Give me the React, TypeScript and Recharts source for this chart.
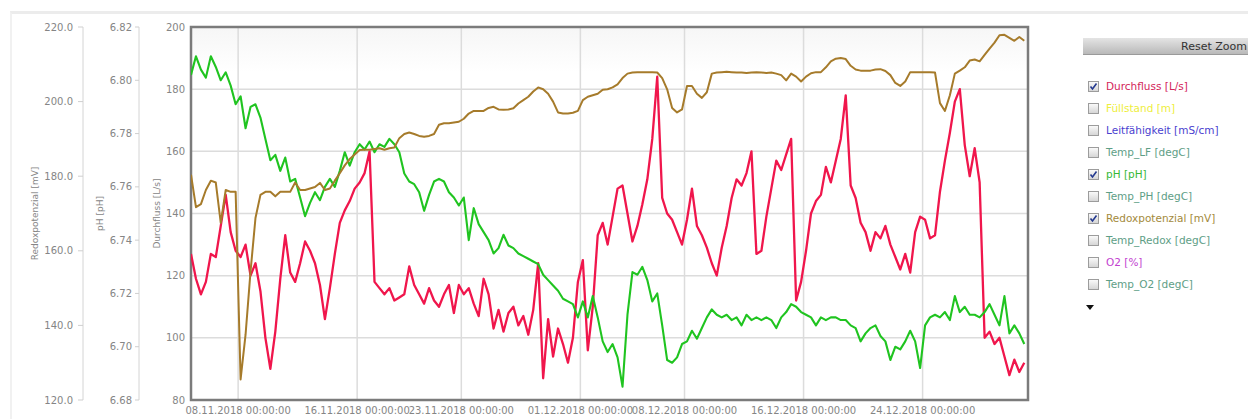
import { CartesianGrid, Line, LineChart, ReferenceArea, XAxis, YAxis } from 'recharts'

// Messreihe im 8-Stunden-Raster ab 04.11.2018 20:00 (UTC)
const START = Date.UTC(2018, 10, 4, 20)
const STEP = 8 * 3600 * 1000
const END = START + 56.25 * 24 * 3600 * 1000

const tickDays = ['08.11.2018', '16.11.2018', '23.11.2018', '01.12.2018', '08.12.2018', '16.12.2018', '24.12.2018']
const flowTicks = [80, 100, 120, 140, 160, 180, 200]
const phTicks = [6.68, 6.7, 6.72, 6.74, 6.76, 6.78, 6.8, 6.82]
const redoxTicks = [120, 140, 160, 180, 200, 220]

// Durchfluss [L/s]
const durchfluss = [
	127, 119, 114, 118, 127, 126, 136, 146, 134, 128,
	126, 130, 120, 124, 115, 100, 90, 102, 119, 133,
	121, 118, 124, 131, 128, 124, 117, 106, 116, 127,
	137, 141, 144, 148, 150, 153, 160, 118, 116, 114,
	116, 112, 113, 114, 123, 117, 114, 111, 116, 112,
	110, 114, 117, 108, 117, 114, 116, 111, 107, 119,
	114, 103, 109, 102, 108, 110, 104, 107, 101, 109,
	124, 87, 106, 94, 103, 98, 92, 100, 118, 125,
	96, 110, 133, 137, 130, 139, 148, 149, 140, 131,
	136, 143, 151, 164, 184, 145, 140, 138, 134, 130,
	138, 148, 136, 133, 129, 124, 120, 129, 136, 145,
	151, 149, 153, 160, 127, 128, 139, 148, 157, 154,
	159, 164, 112, 118, 128, 140, 144, 146, 155, 150,
	157, 164, 178, 149, 145, 137, 134, 128, 134, 132,
	136, 130, 126, 122, 127, 121, 134, 139, 138, 132,
	133, 147, 157, 166, 176, 180, 162, 152, 161, 150,
	100, 102, 98, 100, 94, 88, 93, 89, 92
]

// pH [pH]
const ph = [
	6.802, 6.809, 6.804, 6.801, 6.809, 6.805, 6.8, 6.803, 6.798, 6.791,
	6.794, 6.782, 6.79, 6.791, 6.786, 6.778, 6.77, 6.772, 6.766, 6.771,
	6.762, 6.763, 6.756, 6.749, 6.754, 6.758, 6.755, 6.76, 6.763, 6.76,
	6.766, 6.773, 6.768, 6.773, 6.776, 6.774, 6.777, 6.773, 6.776, 6.775,
	6.778, 6.776, 6.773, 6.765, 6.762, 6.761, 6.758, 6.751, 6.757, 6.762,
	6.763, 6.762, 6.758, 6.756, 6.753, 6.756, 6.74, 6.752, 6.746, 6.743,
	6.74, 6.735, 6.737, 6.742, 6.738, 6.737, 6.735, 6.734, 6.733, 6.732,
	6.731, 6.727, 6.725, 6.723, 6.721, 6.718, 6.717, 6.716, 6.711, 6.717,
	6.711, 6.719, 6.711, 6.702, 6.698, 6.701, 6.696, 6.685, 6.712, 6.728,
	6.727, 6.73, 6.725, 6.717, 6.72, 6.708, 6.695, 6.694, 6.696, 6.701,
	6.702, 6.706, 6.703, 6.707, 6.711, 6.714, 6.712, 6.711, 6.712, 6.71,
	6.711, 6.708, 6.712, 6.71, 6.711, 6.71, 6.711, 6.71, 6.707, 6.711,
	6.713, 6.716, 6.715, 6.713, 6.712, 6.711, 6.708, 6.711, 6.71, 6.711,
	6.711, 6.71, 6.71, 6.708, 6.707, 6.702, 6.705, 6.707, 6.708, 6.704,
	6.702, 6.695, 6.7, 6.699, 6.702, 6.706, 6.702, 6.692, 6.708, 6.711,
	6.712, 6.711, 6.713, 6.71, 6.719, 6.713, 6.715, 6.712, 6.712, 6.711,
	6.713, 6.716, 6.712, 6.708, 6.719, 6.705, 6.708, 6.705, 6.701
]

// Redoxpotenzial [mV]
const redox = [
	180.4, 171.7, 172.5, 176.3, 178.8, 178.3, 167.5, 176.3, 175.8, 175.8,
	125.5, 137.5, 154.4, 168.8, 175.0, 175.8, 175.8, 174.6, 175.8, 175.8,
	175.8, 178.3, 176.3, 176.3, 176.7, 177.1, 178.2, 176.3, 176.7, 178.8,
	180.8, 182.9, 184.6, 185.8, 187.0, 187.1, 187.1, 187.3, 187.5, 187.1,
	187.5, 187.7, 190.2, 191.3, 191.7, 191.3, 190.8, 190.6, 190.8, 191.3,
	193.8, 194.2, 194.2, 194.4, 194.6, 195.4, 196.8, 197.5, 197.5, 197.5,
	198.3, 198.6, 197.9, 197.8, 197.9, 198.2, 199.5, 200.4, 201.3, 202.7,
	203.8, 203.3, 202.1, 200.0, 197.1, 196.8, 196.8, 197.0, 197.5, 200.4,
	201.3, 201.7, 202.1, 203.2, 203.3, 203.8, 204.6, 206.3, 207.5, 207.8,
	207.9, 207.9, 207.9, 207.9, 207.8, 206.3, 203.3, 198.3, 197.1, 197.9,
	204.2, 204.2, 202.1, 201.0, 202.5, 207.5, 207.8, 207.9, 208.0, 207.9,
	207.8, 207.8, 207.7, 207.8, 207.9, 207.8, 207.7, 207.8, 207.5, 207.1,
	205.7, 207.5, 206.7, 205.4, 206.7, 207.6, 207.9, 207.9, 209.2, 210.8,
	211.5, 211.7, 211.4, 209.6, 208.6, 208.3, 208.3, 208.3, 208.6, 208.7,
	208.2, 207.1, 205.0, 204.2, 205.4, 207.9, 207.9, 207.9, 207.9, 207.9,
	207.8, 199.6, 197.5, 201.7, 207.5, 208.3, 209.2, 211.0, 211.3, 210.8,
	212.5, 214.2, 215.8, 217.8, 217.9, 217.1, 216.3, 217.3, 216.3
]

const legendItems = [
	{ name: 'Durchfluss [L/s]', color: '#d3245a', checked: true },
	{ name: 'Füllstand [m]', color: '#eeee3c', checked: false },
	{ name: 'Leitfähigkeit [mS/cm]', color: '#4a3fcf', checked: false },
	{ name: 'Temp_LF [degC]', color: '#5e9e86', checked: false },
	{ name: 'pH [pH]', color: '#36b836', checked: true },
	{ name: 'Temp_PH [degC]', color: '#5e9e86', checked: false },
	{ name: 'Redoxpotenzial [mV]', color: '#a38a3c', checked: true },
	{ name: 'Temp_Redox [degC]', color: '#5e9e86', checked: false },
	{ name: 'O2 [%]', color: '#c23fd0', checked: false },
	{ name: 'Temp_O2 [degC]', color: '#5e9e86', checked: false }
]

const rows = durchfluss.map((v, i) => ({
	t: START + i * STEP,
	durchfluss: v,
	ph: ph[i],
	redox: redox[i]
}))

const tickStamps = tickDays.map(d => {
	const [dd, mm, yy] = d.split('.').map(Number)
	return Date.UTC(yy, mm - 1, dd)
})

const pad = (n: number) => String(n).padStart(2, '0')
function fmtDate(ms: number) {
	const d = new Date(ms)
	return `${pad(d.getUTCDate())}.${pad(d.getUTCMonth() + 1)}.${d.getUTCFullYear()} ${pad(d.getUTCHours())}:${pad(d.getUTCMinutes())}:${pad(d.getUTCSeconds())}`
}

const FONT = '"DejaVu Sans", Verdana, sans-serif'
const AXIS_TEXT = '#858585'

/** Senkrechter Achsentitel, dx = Abstand vom linken Rand der Achse. */
function AxisTitle({ viewBox, text, dx }: any) {
	const x = viewBox.x + dx
	const y = viewBox.y + viewBox.height / 2
	return (
		<text
			x={x}
			y={y}
			transform={`rotate(-90 ${x} ${y})`}
			textAnchor='middle'
			dominantBaseline='central'
			fontSize={9}
			fontFamily={FONT}
			fill={AXIS_TEXT}
		>
			{text}
		</text>
	)
}

function CheckBox({ checked }: { checked: boolean }) {
	return (
		<svg width={11} height={11} style={{ display: 'block' }}>
			<defs>
				<linearGradient id='cbFill' x1='0' y1='0' x2='0' y2='1'>
					<stop offset='0%' stopColor='#fbfbfb' />
					<stop offset='100%' stopColor='#d4d4d4' />
				</linearGradient>
			</defs>
			<rect x={0.5} y={0.5} width={10} height={10} fill='url(#cbFill)' stroke='#9c9c9c' />
			{checked && (
				<path d='M2.5 5.5 L4.5 8 L8.5 2.5' fill='none' stroke='#24398f' strokeWidth={1.6} />
			)}
		</svg>
	)
}

const tickStyle = { fontSize: 10, fontFamily: FONT, fill: AXIS_TEXT }

export default function App() {
	return (
		<div style={{ position: 'relative', width: 1248, height: 419, fontFamily: FONT }}>
			<style>{'body{margin:0;overflow:hidden}'}</style>

			{/* Rahmen des Diagrammfelds */}
			<div
				style={{
					position: 'absolute',
					left: 10,
					top: 11,
					right: -4,
					bottom: -4,
					borderTop: '3px solid #ececec',
					borderLeft: '2px solid #f1f1f1'
				}}
			/>

			<div style={{ position: 'absolute', left: 0, top: 0 }}>
				<LineChart
					width={1040}
					height={419}
					data={rows}
					margin={{ top: 27, right: 12, bottom: 0, left: 0 }}
				>
					<defs>
						<linearGradient id='plotBg' x1='0' y1='0' x2='0' y2='1'>
							<stop offset='0%' stopColor='#f6f6f6' />
							<stop offset='12%' stopColor='#ffffff' />
							<stop offset='100%' stopColor='#ffffff' />
						</linearGradient>
					</defs>

					<CartesianGrid
						yAxisId='flow'
						stroke='#dcdcdc'
						strokeWidth={1.5}
						fill='url(#plotBg)'
						horizontalValues={flowTicks}
						verticalValues={tickStamps}
					/>

					<XAxis
						dataKey='t'
						type='number'
						domain={[START, END]}
						allowDataOverflow
						ticks={tickStamps}
						interval={0}
						tickFormatter={fmtDate}
						tick={tickStyle}
						tickLine={false}
						axisLine={false}
						tickSize={2}
						tickMargin={5}
						height={19}
					/>

					<YAxis
						yAxisId='flow'
						orientation='left'
						width={52}
						domain={[80, 200]}
						ticks={flowTicks}
						allowDataOverflow
						tick={tickStyle}
						tickLine={false}
						axisLine={false}
						tickSize={3}
						tickMargin={3}
						label={<AxisTitle text='Durchfluss [L/s]' dx={18} />}
					/>
					<YAxis
						yAxisId='ph'
						orientation='left'
						width={56}
						domain={[6.68, 6.82]}
						ticks={phTicks}
						allowDataOverflow
						tickFormatter={(v: number) => v.toFixed(2)}
						tick={tickStyle}
						tickLine={{ stroke: '#cfcfcf' }}
						axisLine={{ stroke: '#d4d4d4' }}
						tickSize={4}
						tickMargin={3}
						label={<AxisTitle text='pH [pH]' dx={17} />}
					/>
					<YAxis
						yAxisId='redox'
						orientation='left'
						width={83}
						domain={[120, 220]}
						ticks={redoxTicks}
						allowDataOverflow
						tickFormatter={(v: number) => v.toFixed(1)}
						tick={tickStyle}
						tickLine={{ stroke: '#cfcfcf' }}
						axisLine={{ stroke: '#d4d4d4' }}
						tickSize={5}
						tickMargin={5}
						label={<AxisTitle text='Redoxpotenzial [mV]' dx={35} />}
					/>

					<Line
						yAxisId='flow'
						dataKey='durchfluss'
						type='linear'
						stroke='#f0164c'
						strokeWidth={2.3}
						strokeLinejoin='round'
						dot={false}
						isAnimationActive={false}
					/>
					<Line
						yAxisId='ph'
						dataKey='ph'
						type='linear'
						stroke='#20c420'
						strokeWidth={2.1}
						strokeLinejoin='round'
						dot={false}
						isAnimationActive={false}
					/>
					<Line
						yAxisId='redox'
						dataKey='redox'
						type='linear'
						stroke='#a67b2b'
						strokeWidth={2}
						strokeLinejoin='round'
						dot={false}
						isAnimationActive={false}
					/>

					<ReferenceArea
						yAxisId='flow'
						x1={START}
						x2={END}
						y1={80}
						y2={200}
						ifOverflow='visible'
						fill='none'
						stroke='#7b7b7b'
						strokeWidth={2.5}
					/>
				</LineChart>
			</div>

			{/* Reset-Zoom-Knopf */}
			<div
				style={{
					position: 'absolute',
					left: 1083,
					top: 38,
					width: 165,
					height: 17,
					boxSizing: 'border-box',
					background: 'linear-gradient(#e4e4e4, #b9b9b9)',
					borderBottom: '1px solid #9a9a9a',
					fontSize: 11,
					lineHeight: '17px',
					color: '#333',
					textAlign: 'right',
					paddingRight: 1,
					whiteSpace: 'nowrap'
				}}
			>
				Reset Zoom
			</div>

			{/* Serienauswahl */}
			{legendItems.map((item, i) => (
				<div
					key={item.name}
					style={{
						position: 'absolute',
						left: 1088,
						top: 80 + i * 22,
						height: 12,
						display: 'flex',
						alignItems: 'center',
						gap: 7,
						whiteSpace: 'nowrap'
					}}
				>
					<CheckBox checked={item.checked} />
					<span style={{ fontSize: 10.5, color: item.color, lineHeight: '12px' }}>
						{item.name}
					</span>
				</div>
			))}

			<div
				style={{
					position: 'absolute',
					left: 1086,
					top: 305,
					width: 0,
					height: 0,
					borderLeft: '4px solid transparent',
					borderRight: '4px solid transparent',
					borderTop: '5px solid #111'
				}}
			/>
		</div>
	)
}
